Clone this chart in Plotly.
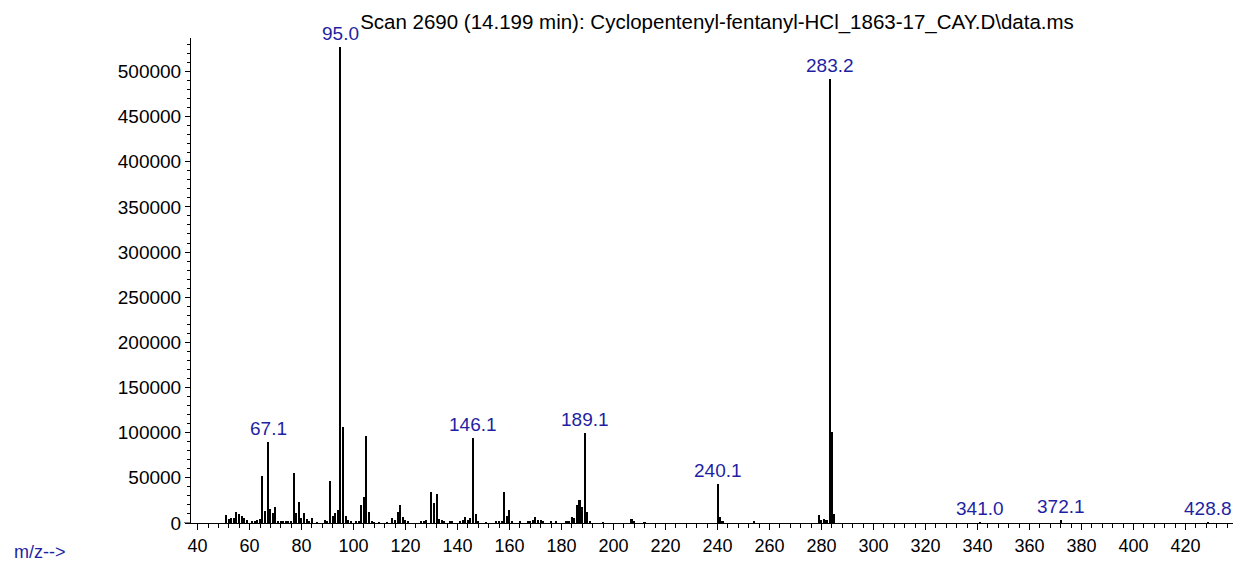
import plotly.graph_objects as go

# ---------------- data ----------------
mz = [51, 52, 53, 54, 55, 56, 57, 58, 59, 61, 62, 63, 64, 65, 66, 67.1, 68, 69, 70,
      71, 72, 73, 74, 75, 76, 77, 78, 79, 80, 81, 82, 83, 84, 86, 89, 90, 91, 92, 93,
      94, 95.0, 96, 97, 98, 99, 101, 102, 103, 104, 105, 106, 107, 108, 110, 113, 115,
      116, 117, 118, 119, 120, 121, 126, 127, 128, 130, 131, 132, 133, 134, 135, 137,
      138, 141, 142, 143, 144, 145, 146.1, 147, 148, 151, 155, 156, 157, 158, 159, 160,
      161, 164, 167, 168, 169, 170, 171, 172, 173, 176, 178, 182, 183, 184, 185, 186,
      187, 188, 189.1, 190, 191, 196, 207, 208, 212, 240.1, 241, 242, 254, 279, 280,
      281, 282, 283.2, 284, 285, 341.0, 372.1, 428.8]
abundance = [9000, 4500, 5000, 5500, 12000, 9500, 8000, 6000, 3500, 1200, 1800, 2800,
             4000, 51700, 13000, 89300, 16000, 11000, 17700, 2000, 1500, 1800, 1500,
             1800, 2500, 55300, 11000, 23600, 5500, 11000, 4000, 2000, 5500, 1000, 3700,
             2500, 46500, 7400, 11000, 14000, 526600, 106600, 8000, 3700, 1200, 1500,
             2500, 19900, 28800, 96000, 12200, 2000, 800, 800, 1000, 5500, 3700, 12500,
             19900, 6600, 3700, 1500, 1800, 2200, 3700, 34000, 21800, 32400, 4800, 3700,
             1500, 1800, 1200, 1800, 3700, 6600, 3700, 5500, 94000, 10300, 1800, 1000,
             1500, 1800, 2000, 33900, 8000, 14800, 1800, 1200, 1500, 2000, 3000, 6600,
             3700, 3700, 1500, 1200, 1200, 1500, 2200, 6600, 5500, 19800, 25000, 18200,
             100000, 12400, 1800, 1000, 4800, 1500, 800, 43000, 6600, 1800, 1800, 9000,
             3000, 4800, 3700, 492000, 100500, 10500, 800, 3500, 700]
labeled_mz = [67.1, 95.0, 146.1, 189.1, 240.1, 283.2, 341.0, 372.1, 428.8]

title_text = "Scan 2690 (14.199 min): Cyclopentenyl-fentanyl-HCl_1863-17_CAY.D\\data.ms"
x_ticks = list(range(40, 421, 20))
y_ticks = list(range(0, 500001, 50000))

BLUE = "#1f1fa3"
FONT = "Liberation Sans, Arial, sans-serif"

# the page body has an 8px margin; the figure is sized to fit the 1241x563 window
W, H = 1241 - 8, 563 - 8

fig = go.Figure()
fig.add_trace(go.Bar(x=mz, y=abundance, width=0.6,
                     marker=dict(color="black", line=dict(width=0)),
                     hoverinfo="x+y"))

ab_map = dict(zip(mz, abundance))
for m in labeled_mz:
    fig.add_annotation(x=m, y=ab_map[m], text=f"{m:.1f}", showarrow=False,
                       xanchor="center", yanchor="bottom", yshift=1,
                       font=dict(color=BLUE, size=19, family=FONT))

fig.add_annotation(xref="paper", yref="paper", x=(4 - 183) / 1046, y=-29 / 485,
                   text="m/z-->", showarrow=False, xanchor="left", yanchor="middle",
                   font=dict(color=BLUE, size=18, family=FONT))

# short stub of the x baseline to the left of the y axis
fig.add_shape(type="line", xref="paper", yref="y", x0=-7 / 1046, x1=0, y0=0, y1=0,
              line=dict(color="black", width=1))

fig.update_layout(
    width=W, height=H,
    margin=dict(l=183, r=4, t=30, b=40, autoexpand=False),
    paper_bgcolor="white", plot_bgcolor="white",
    showlegend=False, bargap=0,
    title=dict(text=title_text, x=(717 - 8) / W, xanchor="center",
               y=1 - 14 / H, yanchor="middle",
               font=dict(color="black", size=20.5, family=FONT)),
    font=dict(family=FONT, color="black", size=19),
)
fig.update_xaxes(range=[37.46, 439.8], tickmode="array", tickvals=x_ticks,
                 ticktext=[str(v) for v in x_ticks],
                 showline=True, linecolor="black", linewidth=1, mirror=False,
                 ticks="outside", ticklen=6, tickcolor="black", tickwidth=1,
                 showgrid=False, zeroline=False,
                 minor=dict(tickmode="linear", tick0=0, dtick=4, ticks="outside",
                            ticklen=4, tickcolor="black", showgrid=False),
                 tickfont=dict(size=18, family=FONT, color="black"))
fig.update_yaxes(range=[0, 537000], tickmode="array", tickvals=y_ticks,
                 ticktext=[str(v) for v in y_ticks],
                 showline=True, linecolor="black", linewidth=1,
                 ticks="outside", ticklen=5, tickcolor="black", tickwidth=1,
                 showgrid=False, zeroline=False,
                 minor=dict(tickmode="linear", tick0=0, dtick=10000, ticks="outside",
                            ticklen=3, tickcolor="black", showgrid=False),
                 tickfont=dict(size=19, family=FONT, color="black"))

fig.write_html("out.html")
